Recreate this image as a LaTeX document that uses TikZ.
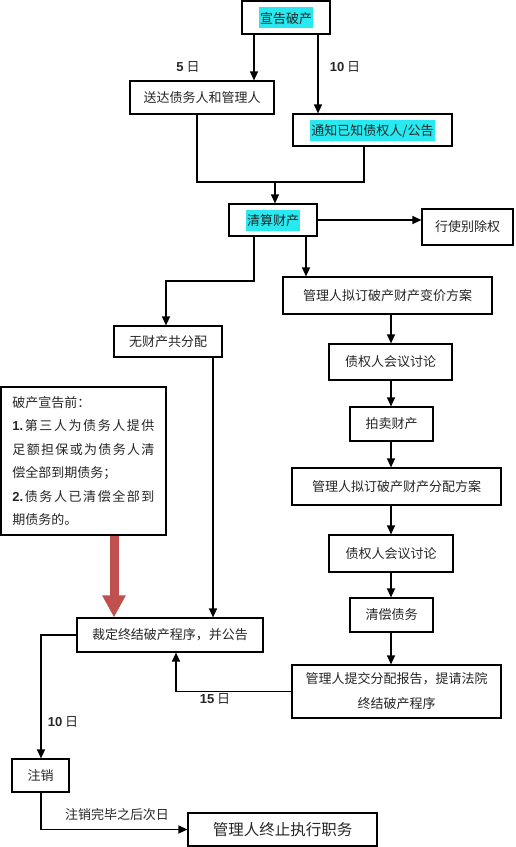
\documentclass[tikz,border=0pt]{standalone}
\usepackage{fontspec}
\setmainfont{Noto Sans CJK SC}
\newfontfamily\lat{Liberation Sans}
\usetikzlibrary{arrows.meta}
\definecolor{hl}{RGB}{40,232,240}
\definecolor{redarr}{RGB}{192,80,77}
\newcommand\hlt[1]{{\setlength{\fboxsep}{0pt}\colorbox{hl}{\rule[-5pt]{0pt}{21pt}\hspace{1pt}#1\hspace{1pt}}}}
\newcommand\num[1]{{\lat\bfseries #1}}
\newcommand\sline[1]{\makebox[142pt][s]{#1}}
\begin{document}
\begin{tikzpicture}[x=1pt,y=-1pt,
  box/.style={draw, line width=1.2pt, inner sep=0pt, font=\fontsize{13}{15}\selectfont, text=black!85, align=center},
  arr/.style={line width=1.3pt, -{Triangle[length=9pt,width=8pt]}},
  ln/.style={line width=1.3pt},
  lab/.style={font=\fontsize{13}{15}\selectfont, inner sep=0pt, text=black!85}]
\useasboundingbox[fill=white] (0,0) rectangle (515,847);
% columns
\coordinate (c254) at (254,0);
\coordinate (c318) at (318,0);
\coordinate (c306) at (306,0);
\coordinate (c391) at (391,0);
\coordinate (c213) at (213,0);
\coordinate (c114) at (114,0);
\coordinate (c176) at (176,0);
\coordinate (c41) at (41,0);
% boxes
\node[box, minimum width=88pt, minimum height=33pt] (b1) at (286,17.5) {\hlt{宣告破产}};
\node[box, minimum width=144pt, minimum height=33pt] (b2) at (202,97.5) {送达债务人和管理人};
\node[box, minimum width=159pt, minimum height=32pt] (b3) at (372.5,130) {\hlt{通知已知债权人/公告}};
\node[box, minimum width=88pt, minimum height=32pt] (b4) at (273,220) {\hlt{清算财产}};
\node[box, minimum width=91pt, minimum height=36pt] (b5) at (467.5,227) {行使别除权};
\node[box, minimum width=209pt, minimum height=37pt] (b6) at (387.5,295.5) {管理人拟订破产财产变价方案};
\node[box, minimum width=108pt, minimum height=31pt] (b7) at (168,341.5) {无财产共分配};
\node[box, minimum width=123pt, minimum height=36pt] (b8) at (390.5,362) {债权人会议讨论};
\node[box, minimum width=83pt, minimum height=34pt] (b9) at (391.5,424) {拍卖财产};
\node[box, minimum width=209pt, minimum height=37pt] (b10) at (396.5,486.5) {管理人拟订破产财产分配方案};
\node[box, minimum width=124pt, minimum height=37pt] (b11) at (391,553.5) {债权人会议讨论};
\node[box, minimum width=83pt, minimum height=34pt] (b12) at (391.5,615) {清偿债务};
\node[box, minimum width=209pt, minimum height=53pt, font=\fontsize{13}{25}\selectfont] (b13) at (396.5,691.5) {管理人提交分配报告，提请法院\\终结破产程序};
\node[box, minimum width=186pt, minimum height=34pt] (b14) at (170,635) {裁定终结破产程序，并公告};
\node[box, minimum width=57pt, minimum height=33pt] (b15) at (40.5,775.5) {注销};
\node[box, minimum width=189pt, minimum height=33pt, font=\fontsize{15.5}{18}\selectfont] (b16) at (282.5,829.5) {管理人终止执行职务};
\node[box, minimum width=165pt, minimum height=148pt, text width=142pt, align=left, font=\fontsize{13}{23.4}\selectfont] (note) at (83.5,461) {破产宣告前：\\
\sline{\num{1.}\hfil 第\hfil 三\hfil 人\hfil 为\hfil 债\hfil 务\hfil 人\hfil 提\hfil 供}\\
\sline{足\hfil 额\hfil 担\hfil 保\hfil 或\hfil 为\hfil 债\hfil 务\hfil 人\hfil 清}\\
偿全部到期债务；\\
\sline{\num{2.}\hfil 债\hfil 务\hfil 人\hfil 已\hfil 清\hfil 偿\hfil 全\hfil 部\hfil 到}\\
期债务的。};
% connectors
\draw[arr] (b1.south -| c254) -- (b2.north -| c254);
\draw[arr] (b1.south -| c318) -- (b3.north -| c318);
\coordinate (mL) at (197,182);
\coordinate (mR) at (364,182);
\coordinate (m) at (275,182);
\draw[ln] (b2.south -| mL) -- (mL) -- (mR) -- (b3.south -| mR);
\draw[arr] (m) -- (b4.north -| m);
\draw[arr] (b4.east) -- (b5.west |- b4.east);
\draw[arr] (b4.south -| c306) -- (b6.north -| c306);
\coordinate (k1) at (254,281);
\coordinate (k2) at (166,281);
\draw[arr] (b4.south -| k1) -- (k1) -- (k2) -- (b7.north -| k2);
\draw[arr] (b6.south -| c391) -- (b8.north -| c391);
\draw[arr] (b8.south -| c391) -- (b9.north -| c391);
\draw[arr] (b9.south -| c391) -- (b10.north -| c391);
\draw[arr] (b10.south -| c391) -- (b11.north -| c391);
\draw[arr] (b11.south -| c391) -- (b12.north -| c391);
\draw[arr] (b12.south -| c391) -- (b13.north -| c391);
\draw[arr] (b7.south -| c213) -- (b14.north -| c213);
\draw[line width=9pt, redarr, -{Triangle[length=22pt,width=22pt]}] (note.south -| c114) -- (b14.north -| c114);
\draw[arr] (b13.west) -- (b13.west -| c176) -- (b14.south -| c176);
\draw[arr] (b14.west) -- (b14.west -| c41) -- (b15.north -| c41);
\draw[arr] (b15.south -| c41) |- (b16.west);
% labels
\node[lab] (l5) at (188,67) {\num{5} 日};
\node[lab] (l10a) at (345,67) {\num{10} 日};
\node[lab] (l15) at (215,699) {\num{15} 日};
\node[lab] (l10b) at (63,722) {\num{10} 日};
\node[lab] (lz) at (117,815) {注销完毕之后次日};
\end{tikzpicture}
\end{document}
